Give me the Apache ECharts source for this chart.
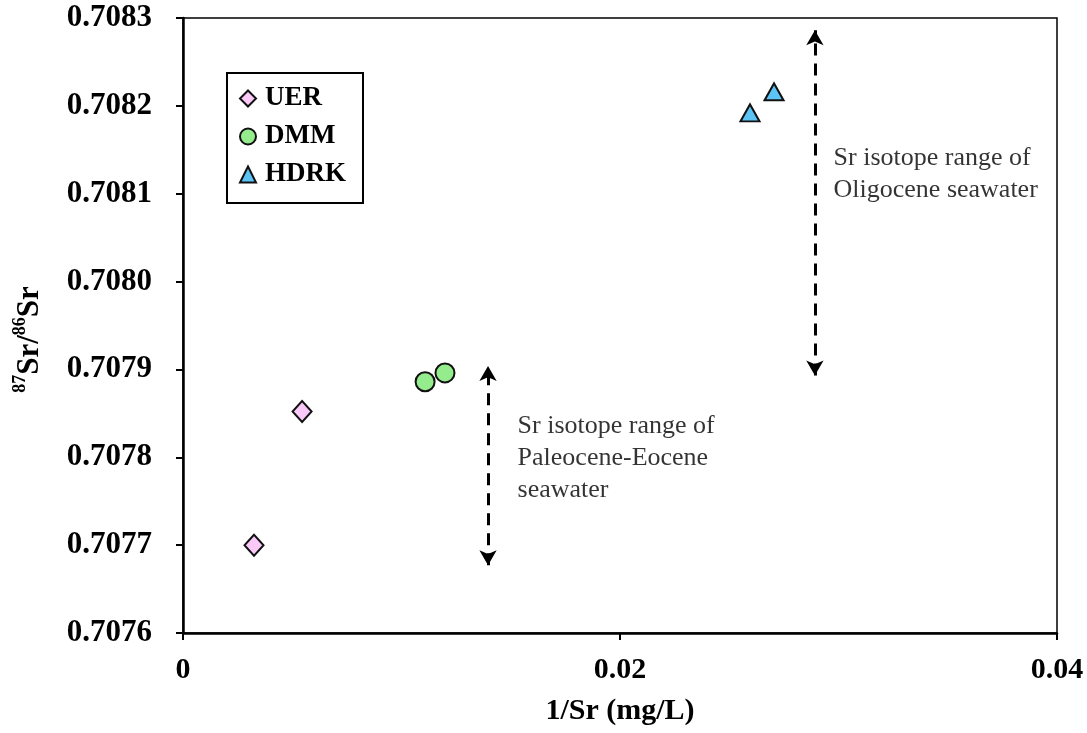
<!DOCTYPE html>
<html><head><meta charset="utf-8">
<script src="https://cdn.jsdelivr.net/npm/echarts@6/dist/echarts.min.js"></script>
<style>html,body{margin:0;padding:0;background:#fff}#c{width:1087px;height:733px}</style>
</head><body><div id="c"></div>
<script>
// Data (x = 1/Sr, y = 87Sr/86Sr)
const uerX = [0.00325, 0.00545];
const uerY = [0.70770, 0.707852];
const dmmX = [0.01108, 0.01199];
const dmmY = [0.707886, 0.707896];
const hdrkX = [0.02595, 0.02705];
const hdrkY = [0.708192, 0.708216];
// Seawater ranges (arrows): x position, y from, y to
const paleoRange = {x: 0.01396, y0: 0.707677, y1: 0.707904};
const oligoRange = {x: 0.02892, y0: 0.707893, y1: 0.708286};
const paleoText = ['Sr isotope range of', 'Paleocene-Eocene', 'seawater'];
const oligoText = ['Sr isotope range of', 'Oligocene seawater'];
const paleoTextAt = [0.01529, 0.707799];
const oligoTextAt = [0.02975, 0.708122];
const xTicks = {min: 0, max: 0.04, interval: 0.02};
const yTicks = {min: 0.7076, max: 0.7083, interval: 0.0001};

const serif = "'Liberation Serif','Times New Roman',serif";
const zip = (xs, ys) => xs.map((x, i) => [x, ys[i]]);

const chart = echarts.init(document.getElementById('c'));
const arrowLine = (r) => ({
  silent: true,
  symbol: ['arrow', 'arrow'],
  symbolSize: [13, 15],
  label: {show: false},
  lineStyle: {color: '#000', width: 3, type: [12, 8]},
  data: [[{coord: [r.x, r.y0]}, {coord: [r.x, r.y1]}]]
});
const textSeries = (name, at, lines) => ({
  name, type: 'scatter', silent: true, symbol: 'circle', symbolSize: 1,
  itemStyle: {color: 'rgba(0,0,0,0)'},
  data: [at],
  label: {
    show: true, position: 'right', distance: 0,
    formatter: lines.join('\n'),
    fontFamily: serif, fontSize: 26, color: '#000', lineHeight: 32,
    align: 'left', verticalAlign: 'middle'
  },
  z: 3
});

chart.setOption({
  animation: false,
  backgroundColor: '#fff',
  grid: {left: 183, right: 30, top: 18, bottom: 100, outerBoundsMode: 'none', containLabel: false,
    show: true, borderColor: '#000', borderWidth: 1.5},
  legend: {
    left: 227, top: 73, orient: 'vertical',
    borderColor: '#000', borderWidth: 2,
    padding: [12, 17, 15, 12], itemGap: 11,
    itemWidth: 16, itemHeight: 16,
    textStyle: {fontFamily: serif, fontWeight: 'bold', fontSize: 27, color: '#000', padding: [0, 0, 0, 4]},
    data: ['UER', 'DMM', 'HDRK']
  },
  xAxis: {
    type: 'value', min: xTicks.min, max: xTicks.max, interval: xTicks.interval,
    name: '1/Sr (mg/L)', nameLocation: 'middle', nameGap: 63,
    nameTextStyle: {fontFamily: serif, fontWeight: 'bold', fontSize: 30, color: '#000'},
    axisLine: {show: true, lineStyle: {color: '#000', width: 2.5}},
    axisTick: {show: true, length: 7, lineStyle: {color: '#000', width: 2}},
    axisLabel: {fontFamily: serif, fontWeight: 'bold', fontSize: 30, color: '#000', margin: 22,
      formatter: v => v === 0 ? '0' : String(+v.toFixed(2))},
    splitLine: {show: false}
  },
  yAxis: {
    type: 'value', min: yTicks.min, max: yTicks.max, interval: yTicks.interval,
    name: '{sup|87}{b|Sr/}{sup|86}{b|Sr}', nameLocation: 'middle', nameGap: 138, nameRotate: 90,
    nameTextStyle: {
      padding: [0, 28, 0, 0],
      rich: {
        b: {fontFamily: serif, fontWeight: 'bold', fontSize: 31, color: '#000', lineHeight: 34, verticalAlign: 'bottom'},
        sup: {fontFamily: serif, fontWeight: 'bold', fontSize: 18, color: '#000', lineHeight: 34, verticalAlign: 'top', padding: [0, 0, 13, 0]}
      }
    },
    axisLine: {show: true, lineStyle: {color: '#000', width: 2.5}},
    axisTick: {show: true, length: 7, lineStyle: {color: '#000', width: 2}},
    axisLabel: {fontFamily: serif, fontWeight: 'bold', fontSize: 31, color: '#000', margin: 31,
      formatter: v => v.toFixed(4)},
    splitLine: {show: false}
  },
  series: [
    {name: 'UER', type: 'scatter', symbol: 'diamond', symbolSize: [19, 21],
      itemStyle: {color: '#fbc9f7', borderColor: '#111', borderWidth: 2, opacity: 1},
      data: zip(uerX, uerY), z: 5},
    {name: 'DMM', type: 'scatter', symbol: 'circle', symbolSize: 19,
      itemStyle: {color: '#94ec8c', borderColor: '#111', borderWidth: 2, opacity: 1},
      data: zip(dmmX, dmmY), z: 5},
    {name: 'HDRK', type: 'scatter', symbol: 'triangle', symbolSize: [19, 17],
      itemStyle: {color: '#5cc4f4', borderColor: '#111', borderWidth: 2, opacity: 1},
      data: zip(hdrkX, hdrkY), z: 5},
    {name: 'ranges', type: 'scatter', data: [], silent: true,
      markLine: arrowLine(paleoRange)},
    {name: 'ranges2', type: 'scatter', data: [], silent: true,
      markLine: arrowLine(oligoRange)},
    textSeries('txt1', paleoTextAt, paleoText),
    textSeries('txt2', oligoTextAt, oligoText)
  ]
});
</script></body></html>
